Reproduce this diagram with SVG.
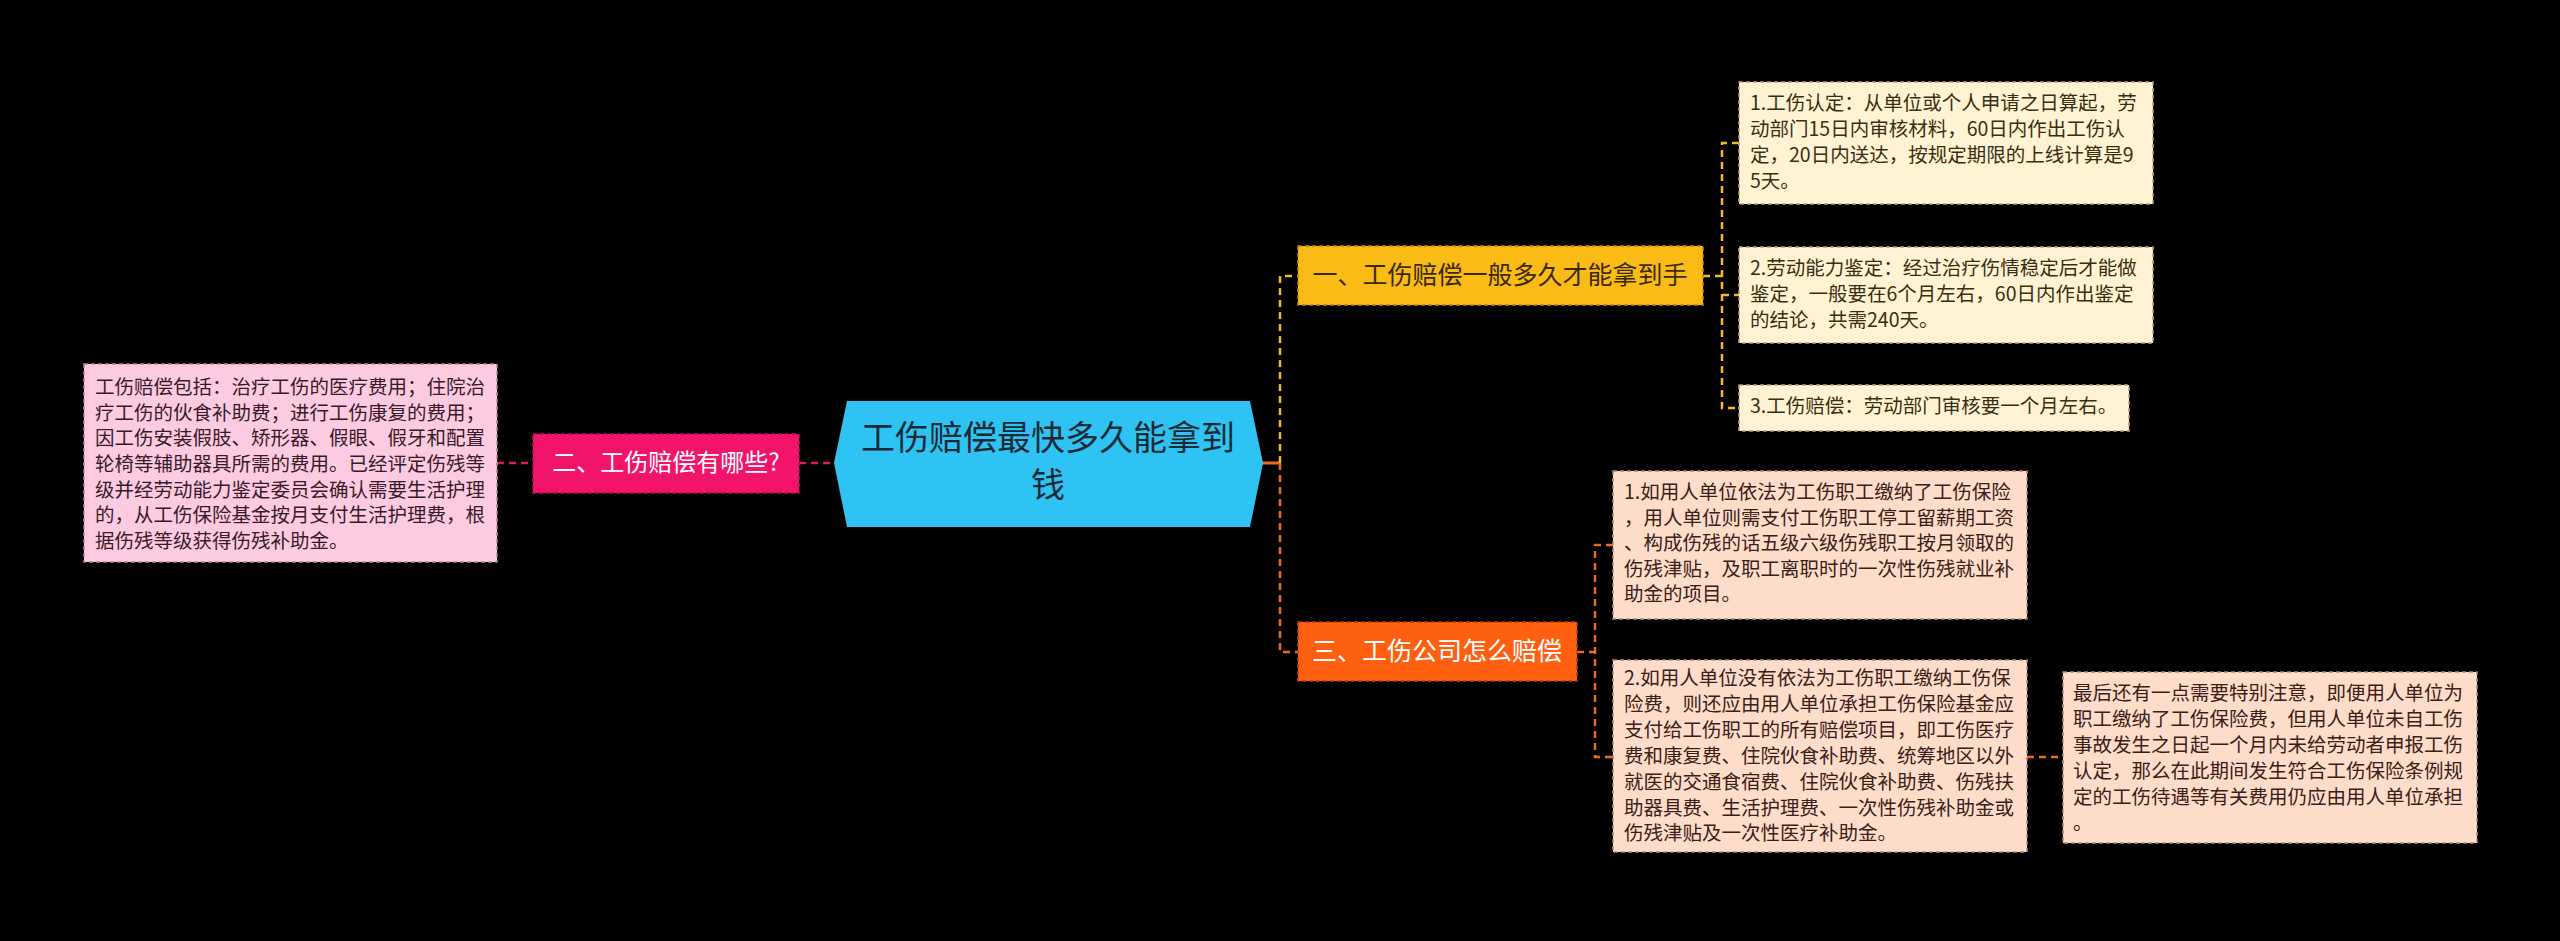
<svg xmlns="http://www.w3.org/2000/svg" width="2560" height="941" viewBox="0 0 2560 941">
<style>
.cjk{font-family:"Noto Sans CJK SC","Noto Sans",sans-serif}
.leaf{font-size:19.5px}
.box{stroke-width:1.5;stroke-dasharray:4 3}
.con{fill:none;stroke-width:2.5;stroke-dasharray:7 5}
</style>
<rect width="2560" height="941" fill="#000"/>
<g id="connectors">
<line x1="799" y1="463" x2="834" y2="463" class="con" stroke="#E0186C"/>
<line x1="497" y1="463" x2="533" y2="463" class="con" stroke="#E0186C"/>
<line x1="1262" y1="463" x2="1280" y2="463" stroke="#F06A1E" stroke-width="3"/>
<path d="M1280 463 V276 H1298" class="con" stroke="#F5B820"/>
<path d="M1280 463 V652 H1298" class="con" stroke="#F06A1E"/>
<path d="M1703 276 H1722 M1739 143 H1722 V408 H1739 M1722 295 H1739" class="con" stroke="#F5B820"/>
<path d="M1577 652 H1595 M1613 545 H1595 V757 H1613" class="con" stroke="#F06A1E"/>
<line x1="2027" y1="757" x2="2063" y2="757" class="con" stroke="#F06A1E"/>
</g>
<g id="root">
<polygon points="834,463 847,401 1250,401 1263,463 1250,527 847,527" fill="#2EC3F2"/>
<text class="cjk" font-size="34" fill="#1C2A36" text-anchor="middle"><tspan x="1048" y="450">工伤赔偿最快多久能拿到</tspan><tspan x="1048" y="497">钱</tspan></text>
</g>
<g id="branch2">
<rect x="533" y="434" width="266" height="59" fill="#F2136A" stroke="#C00E55" class="box"/>
<text class="cjk" x="666" y="471" font-size="24" fill="#FFFFFF" text-anchor="middle">二、工伤赔偿有哪些?</text>
</g>
<g id="leaf2">
<rect x="84" y="364" width="413" height="198" fill="#FCCBE2" stroke="#C08098" class="box"/>
<text class="cjk leaf" fill="#3A1A28"><tspan x="95" y="394">工伤赔偿包括：治疗工伤的医疗费用；住院治</tspan><tspan x="95" y="420">疗工伤的伙食补助费；进行工伤康复的费用；</tspan><tspan x="95" y="445">因工伤安装假肢、矫形器、假眼、假牙和配置</tspan><tspan x="95" y="471">轮椅等辅助器具所需的费用。已经评定伤残等</tspan><tspan x="95" y="497">级并经劳动能力鉴定委员会确认需要生活护理</tspan><tspan x="95" y="522">的，从工伤保险基金按月支付生活护理费，根</tspan><tspan x="95" y="548">据伤残等级获得伤残补助金。</tspan></text>
</g>
<g id="branch1">
<rect x="1298" y="246" width="405" height="59" fill="#FABB16" stroke="#C08A00" class="box"/>
<text class="cjk" x="1500" y="284" font-size="25" fill="#3A2A05" text-anchor="middle">一、工伤赔偿一般多久才能拿到手</text>
</g>
<g id="leaf1a">
<rect x="1739" y="82" width="414" height="122" fill="#FFF3D4" stroke="#B8A070" class="box"/>
<text class="cjk leaf" fill="#3A2E10"><tspan x="1750" y="110">1.工伤认定：从单位或个人申请之日算起，劳</tspan><tspan x="1750" y="136">动部门15日内审核材料，60日内作出工伤认</tspan><tspan x="1750" y="162">定，20日内送达，按规定期限的上线计算是9</tspan><tspan x="1750" y="188">5天。</tspan></text>
</g>
<g id="leaf1b">
<rect x="1739" y="247" width="414" height="96" fill="#FFF3D4" stroke="#B8A070" class="box"/>
<text class="cjk leaf" fill="#3A2E10"><tspan x="1750" y="275">2.劳动能力鉴定：经过治疗伤情稳定后才能做</tspan><tspan x="1750" y="301">鉴定，一般要在6个月左右，60日内作出鉴定</tspan><tspan x="1750" y="327">的结论，共需240天。</tspan></text>
</g>
<g id="leaf1c">
<rect x="1739" y="385" width="390" height="46" fill="#FFF3D4" stroke="#B8A070" class="box"/>
<text class="cjk leaf" x="1750" y="413" fill="#3A2E10">3.工伤赔偿：劳动部门审核要一个月左右。</text>
</g>
<g id="branch3">
<rect x="1298" y="622" width="279" height="59" fill="#FF5F10" stroke="#C04000" class="box"/>
<text class="cjk" x="1437" y="660" font-size="25" fill="#FFFFFF" text-anchor="middle">三、工伤公司怎么赔偿</text>
</g>
<g id="leaf3a">
<rect x="1613" y="471" width="414" height="148" fill="#FDDCCA" stroke="#B08878" class="box"/>
<text class="cjk leaf" fill="#3A2018"><tspan x="1624" y="499">1.如用人单位依法为工伤职工缴纳了工伤保险</tspan><tspan x="1624" y="525">，用人单位则需支付工伤职工停工留薪期工资</tspan><tspan x="1624" y="550">、构成伤残的话五级六级伤残职工按月领取的</tspan><tspan x="1624" y="576">伤残津贴，及职工离职时的一次性伤残就业补</tspan><tspan x="1624" y="601">助金的项目。</tspan></text>
</g>
<g id="leaf3b">
<rect x="1613" y="660" width="414" height="192" fill="#FDDCCA" stroke="#B08878" class="box"/>
<text class="cjk leaf" fill="#3A2018"><tspan x="1624" y="685">2.如用人单位没有依法为工伤职工缴纳工伤保</tspan><tspan x="1624" y="711">险费，则还应由用人单位承担工伤保险基金应</tspan><tspan x="1624" y="737">支付给工伤职工的所有赔偿项目，即工伤医疗</tspan><tspan x="1624" y="763">费和康复费、住院伙食补助费、统筹地区以外</tspan><tspan x="1624" y="789">就医的交通食宿费、住院伙食补助费、伤残扶</tspan><tspan x="1624" y="815">助器具费、生活护理费、一次性伤残补助金或</tspan><tspan x="1624" y="840">伤残津贴及一次性医疗补助金。</tspan></text>
</g>
<g id="leaf3c">
<rect x="2063" y="672" width="414" height="171" fill="#FDDCCA" stroke="#B08878" class="box"/>
<text class="cjk leaf" fill="#3A2018"><tspan x="2073" y="700">最后还有一点需要特别注意，即便用人单位为</tspan><tspan x="2073" y="726">职工缴纳了工伤保险费，但用人单位未自工伤</tspan><tspan x="2073" y="752">事故发生之日起一个月内未给劳动者申报工伤</tspan><tspan x="2073" y="778">认定，那么在此期间发生符合工伤保险条例规</tspan><tspan x="2073" y="804">定的工伤待遇等有关费用仍应由用人单位承担</tspan><tspan x="2073" y="830">。</tspan></text>
</g>
</svg>
